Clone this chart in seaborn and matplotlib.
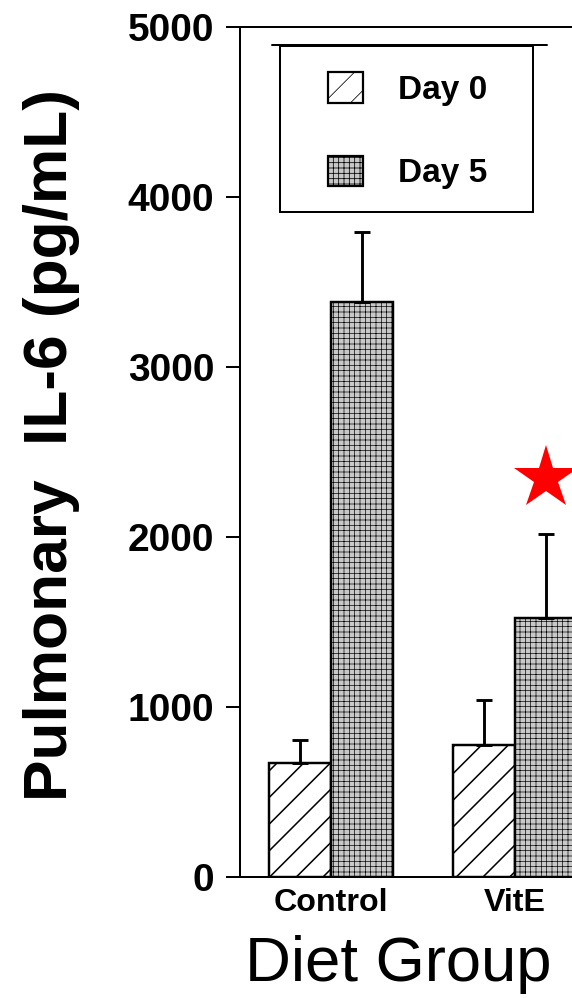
import numpy as np
import pandas as pd
import matplotlib
matplotlib.use("Agg")
import matplotlib.pyplot as plt
from matplotlib.patches import Patch, Rectangle
from matplotlib.lines import Line2D
import seaborn as sns

# values (pg/mL)
groups = ["Control", "VitE"]
days = ["Day 0", "Day 5"]
day0_mean = [670, 776]
day0_sem = [136, 265]
day5_mean = [3382, 1524]
day5_sem = [412, 494]
star_y = 2350  # significance star above VitE day 5

df = pd.DataFrame({
    "group": groups * 2,
    "day": ["Day 0"] * 2 + ["Day 5"] * 2,
    "il6": day0_mean + day5_mean,
})

sns.set_style("ticks")
plt.rcParams['font.family'] = ['Liberation Sans', 'DejaVu Sans']
plt.rcParams['text.color'] = 'black'
plt.rcParams['xtick.color'] = 'black'
plt.rcParams['ytick.color'] = 'black'
plt.rcParams['axes.edgecolor'] = 'black'
plt.rcParams['hatch.linewidth'] = 0.35

DPI = 160
fig = plt.figure(figsize=(572 / DPI, 998 / DPI), dpi=DPI)
ax = fig.add_axes([240 / 572, 1 - 877 / 998, 1 - 240 / 572, 850 / 998])

sns.barplot(data=df, x="group", y="il6", hue="day", order=groups, hue_order=days,
            palette=["white", "#c8c8c8"], width=0.67, errorbar=None,
            edgecolor="black", linewidth=1.1, legend=False, ax=ax)

styles = {"Day 0": ("white", "//", 0.7), "Day 5": ("#c8c8c8", "+++++", 0.3)}
sems = [day0_sem, day5_sem]
for cont, day, sem in zip(ax.containers, days, sems):
    fc, h, hlw = styles[day]
    xs, ys = [], []
    for bar in cont:
        bar.set_hatch(h)
        bar.set_facecolor(fc)
        bar.set_edgecolor("black")
        if hasattr(bar, "set_hatch_linewidth"):
            bar.set_hatch_linewidth(hlw)
        xs.append(bar.get_x() + bar.get_width() / 2)
        ys.append(bar.get_height())
    ax.errorbar(xs, ys, yerr=[np.zeros(len(sem)), sem], fmt="none",
                ecolor="black", elinewidth=1.3, capsize=3.8, capthick=1.3, zorder=1)

# star over VitE day 5
b = ax.containers[1][1]
ax.plot(b.get_x() + b.get_width() / 2, star_y, marker="*", color="red",
        markersize=30, markeredgewidth=0, clip_on=False)

ax.set_ylim(0, 5000)
ax.set_xlim(-0.495, 1.31)
ax.set_yticks([0, 1000, 2000, 3000, 4000, 5000])
for s in ["left", "bottom", "top"]:
    ax.spines[s].set_linewidth(0.9)
ax.spines["right"].set_visible(False)
ax.tick_params(axis="y", length=6.5, width=0.9, pad=5, labelsize=17.5)
ax.tick_params(axis="x", length=0, pad=5, labelsize=14.5)
for lab in ax.get_yticklabels() + ax.get_xticklabels():
    lab.set_fontweight("bold")

ax.set_xlabel("")
ax.set_ylabel("")
fig.text(52 / 572, 1 - 445 / 998, "Pulmonary  IL-6 (pg/mL)", rotation=90,
         ha="center", va="center", fontsize=28, fontweight="bold")
fig.text(398 / 572, 1 - 965 / 998, "Diet Group", ha="center", va="center",
         fontsize=28.5)

handles = [Patch(facecolor=styles[d][0], hatch=styles[d][1], edgecolor="black",
                 linewidth=1.0, label=d) for d in days]
leg = ax.legend(handles=handles, loc="upper left",
                bbox_to_anchor=(311 / 572, 1 - 55 / 998), bbox_transform=fig.transFigure,
                borderaxespad=0, frameon=False, prop={"weight": "bold", "size": 15},
                handlelength=1.05, handleheight=1.05, labelspacing=1.5,
                handletextpad=1.05, borderpad=0.5)
# legend box with the doubled top rule
fig.add_artist(Rectangle((280 / 572, 1 - 212 / 998), 253 / 572, 166 / 998,
                         transform=fig.transFigure, fill=False, edgecolor="black",
                         linewidth=0.9))
fig.add_artist(Line2D([272 / 572, 547 / 572], [1 - 45 / 998, 1 - 45 / 998],
                      color="black", linewidth=0.9, transform=fig.transFigure))

fig.savefig("out.png", dpi=DPI)
